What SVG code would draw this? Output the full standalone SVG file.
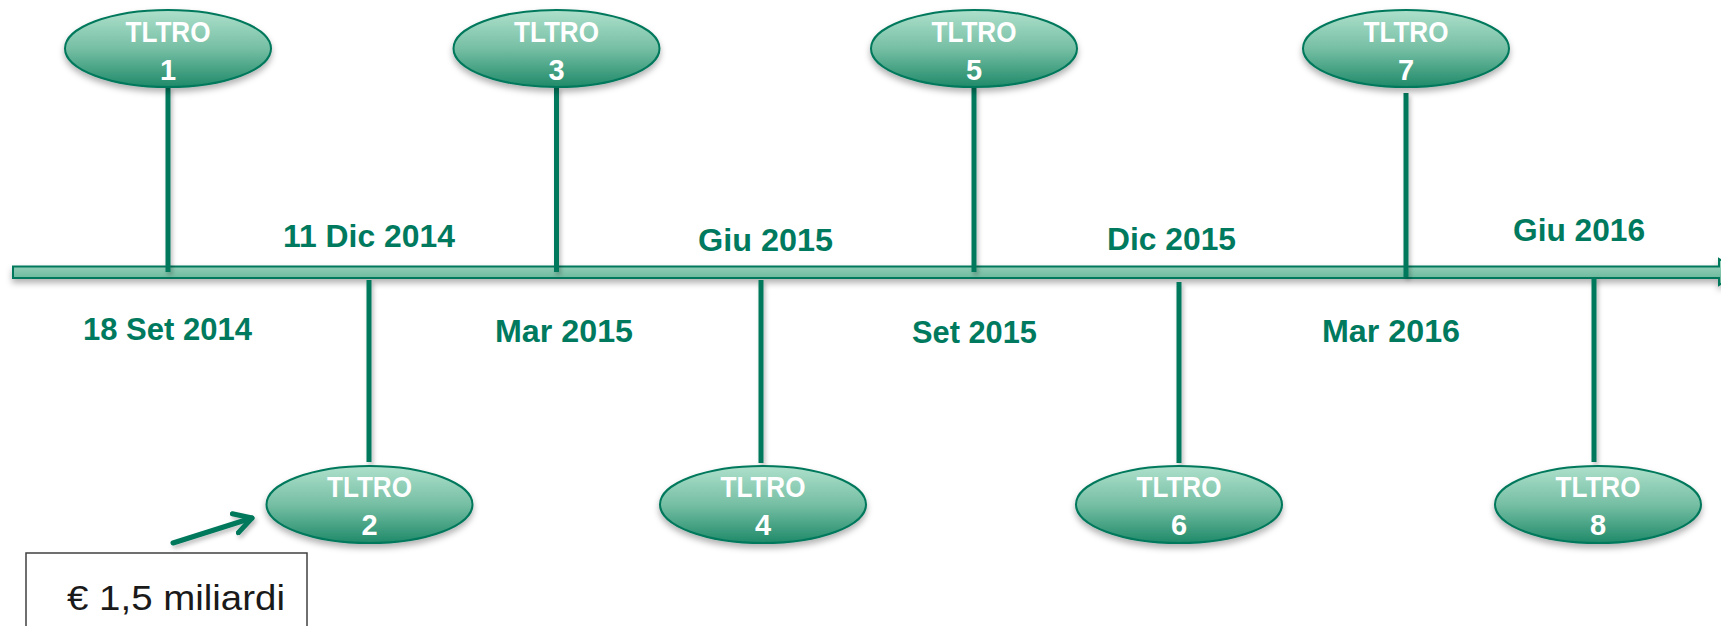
<svg xmlns="http://www.w3.org/2000/svg" width="1721" height="626" viewBox="0 0 1721 626">
<defs>
<linearGradient id="eg" x1="0" y1="0" x2="0" y2="1">
<stop offset="0" stop-color="#aee0cc"/>
<stop offset="0.5" stop-color="#76bfa4"/>
<stop offset="1" stop-color="#1f8a69"/>
</linearGradient>
<linearGradient id="bg" x1="0" y1="0" x2="0" y2="1">
<stop offset="0" stop-color="#a6dbc6"/>
<stop offset="1" stop-color="#5aae90"/>
</linearGradient>
<filter id="sh" x="-20%" y="-20%" width="140%" height="160%">
<feDropShadow dx="0" dy="4" stdDeviation="3" flood-color="#000" flood-opacity="0.3"/>
</filter>
<filter id="shu" filterUnits="userSpaceOnUse" x="0" y="0" width="1721" height="626">
<feDropShadow dx="2" dy="3" stdDeviation="2" flood-color="#000" flood-opacity="0.25"/>
</filter>
<marker id="chev" viewBox="0 0 10 10" refX="8" refY="5" markerWidth="5" markerHeight="5" orient="auto" markerUnits="strokeWidth">
<path d="M1,1 L8,5 L1,9" fill="none" stroke="#00785c" stroke-width="2" stroke-linecap="round" stroke-linejoin="round"/>
</marker>
</defs>
<style>
.node ellipse{fill:url(#eg);stroke:#00785c;stroke-width:2;filter:url(#sh)}
.node text{font-family:"Liberation Sans",Arial,sans-serif;font-weight:bold;font-size:29px;fill:#fff;text-anchor:middle}
.stem{stroke:#00785c;stroke-width:5}
.date{font-family:"Liberation Sans",Arial,sans-serif;font-weight:bold;font-size:31px;fill:#007a5e}
</style>
<g id="timeline">
<polygon points="13,266.5 1719,266.5 1719,259 1740,272 1719,285 1719,278 13,278" fill="url(#bg)" stroke="#00785c" stroke-width="2" filter="url(#sh)"/>
</g>
<g id="connectors" filter="url(#shu)">
<line class="stem" x1="168" y1="87" x2="168" y2="272"/>
<line class="stem" x1="556.5" y1="87" x2="556.5" y2="272"/>
<line class="stem" x1="974" y1="87" x2="974" y2="272"/>
<line class="stem" x1="1406" y1="93" x2="1406" y2="277"/>
<line class="stem" x1="369" y1="280" x2="369" y2="462"/>
<line class="stem" x1="761" y1="280" x2="761" y2="463"/>
<line class="stem" x1="1179" y1="282" x2="1179" y2="463"/>
<line class="stem" x1="1594" y1="277" x2="1594" y2="462"/>
<line x1="173" y1="543" x2="252" y2="518" stroke="#00785c" stroke-width="5" stroke-linecap="round" marker-end="url(#chev)"/>
</g>
<g id="dates">
<text class="date" x="83" y="340" textLength="169" lengthAdjust="spacingAndGlyphs">18 Set 2014</text>
<text class="date" x="283" y="247" textLength="172" lengthAdjust="spacingAndGlyphs">11 Dic 2014</text>
<text class="date" x="495" y="342" textLength="138" lengthAdjust="spacingAndGlyphs">Mar 2015</text>
<text class="date" x="698" y="251" textLength="135" lengthAdjust="spacingAndGlyphs">Giu 2015</text>
<text class="date" x="912" y="343" textLength="125" lengthAdjust="spacingAndGlyphs">Set 2015</text>
<text class="date" x="1107" y="250" textLength="129" lengthAdjust="spacingAndGlyphs">Dic 2015</text>
<text class="date" x="1322" y="342" textLength="138" lengthAdjust="spacingAndGlyphs">Mar 2016</text>
<text class="date" x="1513" y="241" textLength="132" lengthAdjust="spacingAndGlyphs">Giu 2016</text>
</g>
<g id="tltro1" class="node"><ellipse cx="168" cy="48.5" rx="103" ry="38.5"/><text x="168" y="41.5" textLength="85" lengthAdjust="spacingAndGlyphs">TLTRO</text><text x="168" y="79.5">1</text></g>
<g id="tltro3" class="node"><ellipse cx="556.5" cy="48.5" rx="103" ry="38.5"/><text x="556.5" y="41.5" textLength="85" lengthAdjust="spacingAndGlyphs">TLTRO</text><text x="556.5" y="79.5">3</text></g>
<g id="tltro5" class="node"><ellipse cx="974" cy="48.5" rx="103" ry="38.5"/><text x="974" y="41.5" textLength="85" lengthAdjust="spacingAndGlyphs">TLTRO</text><text x="974" y="79.5">5</text></g>
<g id="tltro7" class="node"><ellipse cx="1406" cy="48.5" rx="103" ry="38.5"/><text x="1406" y="41.5" textLength="85" lengthAdjust="spacingAndGlyphs">TLTRO</text><text x="1406" y="79.5">7</text></g>
<g id="tltro2" class="node"><ellipse cx="369.5" cy="504.5" rx="103" ry="38.5"/><text x="369.5" y="496.5" textLength="85" lengthAdjust="spacingAndGlyphs">TLTRO</text><text x="369.5" y="535">2</text></g>
<g id="tltro4" class="node"><ellipse cx="763" cy="504.5" rx="103" ry="38.5"/><text x="763" y="496.5" textLength="85" lengthAdjust="spacingAndGlyphs">TLTRO</text><text x="763" y="535">4</text></g>
<g id="tltro6" class="node"><ellipse cx="1179" cy="504.5" rx="103" ry="38.5"/><text x="1179" y="496.5" textLength="85" lengthAdjust="spacingAndGlyphs">TLTRO</text><text x="1179" y="535">6</text></g>
<g id="tltro8" class="node"><ellipse cx="1598" cy="504.5" rx="103" ry="38.5"/><text x="1598" y="496.5" textLength="85" lengthAdjust="spacingAndGlyphs">TLTRO</text><text x="1598" y="535">8</text></g>
<g id="note">
<rect x="26" y="553" width="281" height="90" fill="#fff" stroke="#404040" stroke-width="1.5"/>
<text x="67" y="610" font-family="Liberation Sans, Arial, sans-serif" font-size="35" fill="#1a1a1a" textLength="218" lengthAdjust="spacingAndGlyphs">€ 1,5 miliardi</text>
</g>
</svg>
